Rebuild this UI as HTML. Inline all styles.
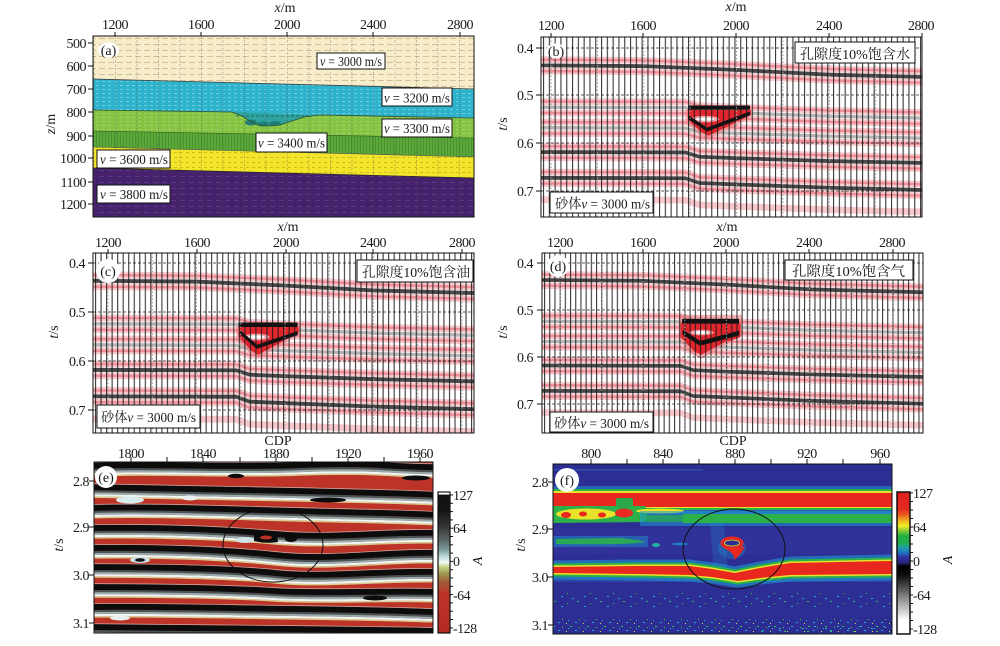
<!DOCTYPE html>
<html><head><meta charset="utf-8"><title>fig</title>
<style>
html,body{margin:0;padding:0;background:#fff;width:1000px;height:646px;overflow:hidden}
svg{display:block}
text{font-family:"Liberation Serif","Noto Serif CJK SC",serif;fill:#1a1a1a;font-size:14px}
.tk{letter-spacing:-0.5px}
.e{text-anchor:end}
.m{text-anchor:middle}
</style></head><body>
<svg width="1000" height="646" viewBox="0 0 1000 646" xmlns="http://www.w3.org/2000/svg">
<defs>
<clipPath id="cA"><rect x="93" y="36" width="381" height="181"/></clipPath>
<clipPath id="cB"><rect x="541" y="37" width="381" height="180"/></clipPath>
<clipPath id="cC"><rect x="93" y="253" width="381" height="180"/></clipPath>
<clipPath id="cD"><rect x="542" y="253" width="381" height="180"/></clipPath>
<clipPath id="cE"><rect x="94" y="462" width="339" height="171"/></clipPath>
<clipPath id="cF"><rect x="553" y="464" width="339" height="170"/></clipPath>

<pattern id="pTan" width="9" height="6" patternUnits="userSpaceOnUse"><rect x="0" y="2" width="6" height="1" fill="#b8a479" opacity=".6"/></pattern>
<pattern id="pCy" width="6" height="4" patternUnits="userSpaceOnUse"><rect x="0" y="1" width="3" height="1" fill="#a5e0ec" opacity=".55"/></pattern>
<pattern id="pLg" width="6" height="4" patternUnits="userSpaceOnUse"><rect x="0" y="1" width="3" height="1" fill="#bfe08a" opacity=".55"/></pattern>
<pattern id="pDg" width="3" height="4" patternUnits="userSpaceOnUse"><rect x="0" y="0" width="1" height="4" fill="#3a8526" opacity=".6"/></pattern>
<pattern id="pYe" width="6" height="5" patternUnits="userSpaceOnUse"><rect x="0" y="2" width="3" height="1" fill="#bfae14" opacity=".7"/></pattern>
<pattern id="pPu" width="9" height="6" patternUnits="userSpaceOnUse"><rect x="0" y="2" width="5" height="1" fill="#6b4b93" opacity=".55"/></pattern>
<pattern id="pVg" x="115" y="36" width="21.5" height="4" patternUnits="userSpaceOnUse"><rect width="0.8" height="2.5" fill="#444" opacity=".35"/></pattern>

<pattern id="tB" x="543" y="0" width="5.8" height="10" patternUnits="userSpaceOnUse"><rect width="1.1" height="10" fill="#161616"/></pattern>
<pattern id="tC" x="95" y="0" width="5.53" height="10" patternUnits="userSpaceOnUse"><rect width="1.1" height="10" fill="#161616"/></pattern>
<pattern id="tD" x="544" y="0" width="5.2" height="10" patternUnits="userSpaceOnUse"><rect width="1.1" height="10" fill="#161616"/></pattern>

<path id="r1" d="M1050,436 L1600,438 L2000,446 L2400,456 L3000,463"/>
<path id="r2" d="M1050,524 L1780,525 L1840,533 L2000,536 L2400,543 L3000,549"/>
<path id="r3" d="M1050,567 L1780,568 L1840,576 L2000,579 L2400,585 L3000,591"/>
<path id="r4" d="M1050,618 L1780,619 L1840,628 L2000,631 L2400,637 L3000,643"/>
<path id="r5" d="M1050,672 L1780,673 L1840,683 L2000,686 L2400,693 L3000,700"/>
<path id="r6" d="M1050,718 L1780,719 L1840,729 L2000,732 L2400,739 L3000,746"/>
<g id="refl" fill="none">
 <g stroke="#f29aa3" stroke-opacity=".55" stroke-width="14">
  <use href="#r1" y="-12"/><use href="#r1" y="12"/>
  <use href="#r2" y="-12"/><use href="#r2" y="12"/>
  <use href="#r3" y="-12"/><use href="#r3" y="12"/>
  <use href="#r4" y="-12"/><use href="#r4" y="12"/>
  <use href="#r5" y="-12"/><use href="#r5" y="12"/>
  <use href="#r6"/>
 </g>
 <g stroke="#ec5f6e" stroke-opacity=".55" stroke-width="5">
  <use href="#r1" y="-12"/><use href="#r1" y="12"/>
  <use href="#r2" y="-12"/><use href="#r2" y="12"/>
  <use href="#r3" y="-12"/><use href="#r3" y="12"/>
  <use href="#r4" y="-12"/><use href="#r4" y="12"/>
  <use href="#r5" y="-12"/><use href="#r5" y="12"/>
 </g>
 <g stroke="#1c1c1c" stroke-opacity=".8" stroke-width="8"><use href="#r1"/><use href="#r4"/><use href="#r5"/></g>
 <g stroke="#8c8c8c" stroke-opacity=".65" stroke-width="7"><use href="#r2"/><use href="#r3"/></g>
</g>

<g id="E1">
<path d="M88,466 C150,463 220,468 300,465 S400,468 440,467"/>
<path d="M88,487 C150,488 220,489 300,491 S400,493 440,495"/>
<path d="M88,508 C150,506 220,509 300,511 S400,513 440,515"/>
<path d="M88,528 C150,527 220,529 276,534 S390,531 440,533"/>
<path d="M88,548 C150,547 220,549 276,555 S390,551 440,553"/>
<path d="M88,567 C150,567 230,568 276,573 S390,570 440,572"/>
<path d="M88,587 C150,587 230,588 276,591 S390,590 440,592"/>
<path d="M88,607 C150,606 220,608 300,609 S400,611 440,612"/>
<path d="M88,627 C150,627 220,628 300,629 S400,630 440,631"/>
</g>

<linearGradient id="gE" x1="0" y1="0" x2="0" y2="1">
<stop offset="0" stop-color="#fff"/><stop offset=".016" stop-color="#fff"/>
<stop offset=".02" stop-color="#111"/><stop offset=".13" stop-color="#141414"/>
<stop offset=".25" stop-color="#363838"/><stop offset=".34" stop-color="#5c6666"/>
<stop offset=".41" stop-color="#7e9c9c"/><stop offset=".46" stop-color="#bcdcdc"/>
<stop offset=".5" stop-color="#f4faf8"/><stop offset=".53" stop-color="#c6d488"/>
<stop offset=".58" stop-color="#9c9650"/><stop offset=".64" stop-color="#a25a3a"/>
<stop offset=".72" stop-color="#bc3428"/><stop offset="1" stop-color="#b42a24"/>
</linearGradient>
<linearGradient id="gF" x1="0" y1="0" x2="0" y2="1">
<stop offset="0" stop-color="#e02020"/><stop offset=".12" stop-color="#e42a20"/>
<stop offset=".16" stop-color="#ea5a20"/><stop offset=".21" stop-color="#f0c020"/>
<stop offset=".24" stop-color="#f0ee24"/><stop offset=".27" stop-color="#8ccc34"/>
<stop offset=".31" stop-color="#22b040"/><stop offset=".36" stop-color="#20ae50"/>
<stop offset=".39" stop-color="#20a0a8"/><stop offset=".43" stop-color="#2070c0"/>
<stop offset=".46" stop-color="#3030a0"/><stop offset=".5" stop-color="#26267a"/>
<stop offset=".52" stop-color="#000"/><stop offset=".58" stop-color="#0a0a0a"/>
<stop offset=".66" stop-color="#444"/><stop offset=".76" stop-color="#959595"/>
<stop offset=".85" stop-color="#d8d8d8"/><stop offset=".9" stop-color="#fff"/>
<stop offset="1" stop-color="#fff"/>
</linearGradient>

<pattern id="sp1" x="553" y="590" width="23" height="10" patternUnits="userSpaceOnUse">
<rect x="1" y="1" width="2" height="1" fill="#2fbf5a"/>
<rect x="8" y="6" width="2" height="1" fill="#25a9d4"/>
<rect x="14" y="3" width="1" height="1" fill="#38c24a"/>
<rect x="19" y="8" width="2" height="1" fill="#22b3c8"/>
</pattern>
<pattern id="sp2" x="553" y="617" width="17" height="8" patternUnits="userSpaceOnUse">
<rect x="0" y="1" width="2" height="1" fill="#2fbf5a"/>
<rect x="5" y="5" width="2" height="1" fill="#25a9d4"/>
<rect x="9" y="2" width="1" height="1" fill="#46c23e"/>
<rect x="13" y="6" width="1" height="1" fill="#d8d830"/>
<rect x="15" y="3" width="1" height="1" fill="#22b3c8"/>
</pattern>

<path id="LB" d="M553,567 L640,566 L690,566 L712,569 L735,573 L760,568 L790,563 L892,561 L892,574 L790,575 L760,578 L738,581 L712,577 L690,575 L640,574 L553,573 Z"/>
</defs>

<rect width="1000" height="646" fill="#fff"/>

<!-- ================= PANEL A ================= -->
<g clip-path="url(#cA)">
<rect x="93" y="36" width="381" height="181" fill="#f7edca"/>
<rect x="93" y="36" width="381" height="181" fill="url(#pTan)"/>
<polygon points="93,79 474,89 474,217 93,217" fill="#2db3cb"/>
<polygon points="93,79 474,89 474,217 93,217" fill="url(#pCy)"/>
<polygon points="93,110 232,112 242,116 250,121 258,125 268,126 280,125 292,121 304,117 320,115 474,118 474,217 93,217" fill="#86c444"/>
<polygon points="93,110 232,112 242,116 250,121 258,125 268,126 280,125 292,121 304,117 320,115 474,118 474,217 93,217" fill="url(#pLg)"/>
<polygon points="232,112 320,115 304,117 292,121 280,125 268,126 258,125 250,121 242,116" fill="#2fa3a0"/>
<ellipse cx="251" cy="122.5" rx="6" ry="3" fill="#1f7f78"/>
<ellipse cx="263" cy="124" rx="6" ry="2.5" fill="#1f7f78"/>
<ellipse cx="275" cy="123.5" rx="6" ry="2.5" fill="#1f7f78"/>
<line x1="236" y1="116" x2="312" y2="116" stroke="#1a6f6a" stroke-width="1" stroke-dasharray="3 2"/>
<polygon points="93,131 474,138 474,217 93,217" fill="#5da83a"/>
<polygon points="93,131 474,138 474,217 93,217" fill="url(#pDg)"/>
<polygon points="93,147 474,157 474,217 93,217" fill="#f3e52c"/>
<polygon points="93,147 474,157 474,217 93,217" fill="url(#pYe)"/>
<polygon points="93,168 474,178 474,217 93,217" fill="#47226c"/>
<polygon points="93,168 474,178 474,217 93,217" fill="url(#pPu)"/>
<rect x="93" y="36" width="381" height="181" fill="url(#pVg)"/>
<polyline points="93,79 474,89" stroke="#3a3a3a" stroke-width=".8" fill="none"/>
<polyline points="93,110 232,112 242,116 250,121 258,125 268,126 280,125 292,121 304,117 320,115 474,118" stroke="#2f4f2f" stroke-width=".8" fill="none"/>
<polyline points="93,131 474,138" stroke="#2f5a22" stroke-width=".6" fill="none"/>
<polyline points="93,147 474,157" stroke="#555" stroke-width=".6" fill="none"/>
<polyline points="93,168 474,178" stroke="#222" stroke-width=".7" fill="none"/>
</g>
<rect x="93" y="36" width="381" height="181" fill="none" stroke="#111" stroke-width="1"/>
<ellipse cx="108.5" cy="50" rx="10.5" ry="7.5" fill="#fff"/>
<text x="108.5" y="55" class="m" font-size="13">(a)</text>

<rect x="317" y="53" width="68" height="16" fill="#fff" stroke="#111"/>
<text x="320" y="66" textLength="62" lengthAdjust="spacingAndGlyphs"><tspan font-style="italic">v</tspan> = 3000 m/s</text>
<rect x="382" y="88" width="70" height="18" fill="#fff" stroke="#111"/>
<text x="384" y="102.5" textLength="66" lengthAdjust="spacingAndGlyphs"><tspan font-style="italic">v</tspan> = 3200 m/s</text>
<rect x="382" y="119" width="70" height="18" fill="#fff" stroke="#111"/>
<text x="384" y="133" textLength="66" lengthAdjust="spacingAndGlyphs"><tspan font-style="italic">v</tspan> = 3300 m/s</text>
<rect x="256" y="133" width="71" height="19" fill="#fff" stroke="#111"/>
<text x="258" y="147.5" textLength="67" lengthAdjust="spacingAndGlyphs"><tspan font-style="italic">v</tspan> = 3400 m/s</text>
<rect x="97" y="150" width="73" height="18" fill="#fff" stroke="#111"/>
<text x="100" y="164" textLength="68" lengthAdjust="spacingAndGlyphs"><tspan font-style="italic">v</tspan> = 3600 m/s</text>
<rect x="97" y="185" width="73" height="18" fill="#fff" stroke="#111"/>
<text x="100" y="199" textLength="68" lengthAdjust="spacingAndGlyphs"><tspan font-style="italic">v</tspan> = 3800 m/s</text>

<!-- axes A -->
<g stroke="#111" stroke-width="1">
<line x1="115" y1="36" x2="115" y2="32"/><line x1="201" y1="36" x2="201" y2="32"/><line x1="287" y1="36" x2="287" y2="32"/><line x1="373" y1="36" x2="373" y2="32"/><line x1="460" y1="36" x2="460" y2="32"/>
<line x1="88" y1="43" x2="93" y2="43"/><line x1="88" y1="66" x2="93" y2="66"/><line x1="88" y1="89" x2="93" y2="89"/><line x1="88" y1="112" x2="93" y2="112"/><line x1="88" y1="136" x2="93" y2="136"/><line x1="88" y1="158" x2="93" y2="158"/><line x1="88" y1="182" x2="93" y2="182"/><line x1="88" y1="204" x2="93" y2="204"/>
</g>
<text x="285" y="12" class="m"><tspan font-style="italic">x</tspan>/m</text>
<text x="115" y="29" class="m tk">1200</text><text x="201" y="29" class="m tk">1600</text><text x="287" y="29" class="m tk">2000</text><text x="373" y="29" class="m tk">2400</text><text x="460" y="29" class="m tk">2800</text>
<text x="86" y="48" class="e tk">500</text><text x="86" y="71" class="e tk">600</text><text x="86" y="94" class="e tk">700</text><text x="86" y="117" class="e tk">800</text><text x="86" y="141" class="e tk">900</text><text x="86" y="163" class="e tk">1000</text><text x="86" y="187" class="e tk">1100</text><text x="86" y="209" class="e tk">1200</text>
<text transform="translate(55,124) rotate(-90)" class="m"><tspan font-style="italic">z</tspan>/m</text>

<!-- ================= PANEL B ================= -->
<g clip-path="url(#cB)">
<rect x="541" y="37" width="381" height="180" fill="#fff"/>
<g transform="matrix(0.2319,0,0,0.477,272.7,-142.8)">
 <use href="#refl"/>
 <path d="M1780,528 L2070,528 L2070,543 L1990,565 L1880,592 L1845,584 L1780,555 Z" fill="#f07880" opacity=".55"/>
 <path d="M1790,530 L2062,530 L2062,540 L1990,558 L1880,584 L1850,577 L1790,551 Z" fill="#e2262e"/>
 <ellipse cx="1865" cy="549" rx="60" ry="7" fill="#f3a3aa"/>
 <ellipse cx="1865" cy="549" rx="40" ry="3.5" fill="#fff"/>
 <path d="M1792,525 L2058,525" stroke="#111" stroke-width="9" fill="none"/>
 <path d="M1792,545 L1873,571 L2058,537" stroke="#111" stroke-width="8" fill="none"/>
</g>
<rect x="541" y="37" width="381" height="180" fill="url(#tB)" opacity=".85"/>
<g stroke="#9a9a9a" stroke-width="1" stroke-dasharray="1.5 2">
<line x1="551" y1="37" x2="551" y2="217"/><line x1="597.4" y1="37" x2="597.4" y2="217"/><line x1="643.8" y1="37" x2="643.8" y2="217"/><line x1="690.1" y1="37" x2="690.1" y2="217"/><line x1="736.5" y1="37" x2="736.5" y2="217"/><line x1="782.9" y1="37" x2="782.9" y2="217"/><line x1="829.3" y1="37" x2="829.3" y2="217"/><line x1="875.6" y1="37" x2="875.6" y2="217"/>
</g>
<g stroke="#222" stroke-width=".7" stroke-dasharray="3 2">
<line x1="541" y1="48" x2="922" y2="48"/><line x1="541" y1="95" x2="922" y2="95"/><line x1="541" y1="143" x2="922" y2="143"/><line x1="541" y1="191" x2="922" y2="191"/>
</g>
</g>
<rect x="541" y="37" width="381" height="180" fill="none" stroke="#111"/>
<ellipse cx="556" cy="51" rx="10" ry="7.5" fill="#fff"/>
<text x="556" y="56" class="m" font-size="13">(b)</text>
<rect x="795" y="42" width="120" height="21" fill="#fff" stroke="#111"/>
<text x="800" y="59" font-size="15" textLength="110" lengthAdjust="spacingAndGlyphs">孔隙度10%饱含水</text>
<rect x="550" y="192" width="103" height="21" fill="#fff" stroke="#111"/>
<text x="555" y="208.5" textLength="95" lengthAdjust="spacingAndGlyphs">砂体<tspan font-style="italic">v</tspan> = 3000 m/s</text>
<g stroke="#111" stroke-width="1">
<line x1="551" y1="37" x2="551" y2="33"/><line x1="643" y1="37" x2="643" y2="33"/><line x1="736" y1="37" x2="736" y2="33"/><line x1="829" y1="37" x2="829" y2="33"/><line x1="922" y1="37" x2="922" y2="33"/>
<line x1="536" y1="48" x2="541" y2="48"/><line x1="536" y1="95" x2="541" y2="95"/><line x1="536" y1="143" x2="541" y2="143"/><line x1="536" y1="191" x2="541" y2="191"/>
</g>
<text x="736" y="11" class="m"><tspan font-style="italic">x</tspan>/m</text>
<text x="551" y="30" class="m tk">1200</text><text x="643" y="30" class="m tk">1600</text><text x="736" y="30" class="m tk">2000</text><text x="829" y="30" class="m tk">2400</text><text x="921" y="30" class="m tk">2800</text>
<text x="533" y="53" class="e tk">0.4</text><text x="533" y="100" class="e tk">0.5</text><text x="533" y="148" class="e tk">0.6</text><text x="533" y="196" class="e tk">0.7</text>
<text transform="translate(507,124) rotate(-90)" class="m"><tspan font-style="italic">t</tspan>/s</text>

<!-- ================= PANEL C ================= -->
<g clip-path="url(#cC)">
<rect x="93" y="253" width="381" height="180" fill="#fff"/>
<g transform="matrix(0.2213,0,0,0.49,-157.6,67)">
 <use href="#refl"/>
 <path d="M1780,528 L2070,528 L2070,545 L1990,567 L1880,594 L1845,586 L1780,555 Z" fill="#f07880" opacity=".55"/>
 <path d="M1790,530 L2062,530 L2062,542 L1990,560 L1880,587 L1850,580 L1790,551 Z" fill="#e2262e"/>
 <ellipse cx="1870" cy="551" rx="60" ry="7" fill="#f3a3aa"/>
 <ellipse cx="1870" cy="551" rx="38" ry="3.5" fill="#fff"/>
 <path d="M1790,526 L2057,526" stroke="#111" stroke-width="9" fill="none"/>
 <path d="M1796,541 L1873,571 L2057,543" stroke="#111" stroke-width="8" fill="none"/>
</g>
<rect x="93" y="253" width="381" height="180" fill="url(#tC)" opacity=".85"/>
<g stroke="#9a9a9a" stroke-width="1" stroke-dasharray="1.5 2">
<line x1="108" y1="253" x2="108" y2="433"/><line x1="152.3" y1="253" x2="152.3" y2="433"/><line x1="196.5" y1="253" x2="196.5" y2="433"/><line x1="240.8" y1="253" x2="240.8" y2="433"/><line x1="285" y1="253" x2="285" y2="433"/><line x1="329.3" y1="253" x2="329.3" y2="433"/><line x1="373.6" y1="253" x2="373.6" y2="433"/><line x1="417.9" y1="253" x2="417.9" y2="433"/><line x1="462" y1="253" x2="462" y2="433"/>
</g>
<g stroke="#222" stroke-width=".7" stroke-dasharray="3 2">
<line x1="93" y1="263" x2="474" y2="263"/><line x1="93" y1="312" x2="474" y2="312"/><line x1="93" y1="361" x2="474" y2="361"/><line x1="93" y1="410" x2="474" y2="410"/>
</g>
</g>
<rect x="93" y="253" width="381" height="180" fill="none" stroke="#111"/>
<circle cx="108" cy="271" r="12" fill="#fff"/>
<text x="108" y="276" class="m" font-size="13">(c)</text>
<rect x="357" y="260" width="116" height="22" fill="#fff" stroke="#111"/>
<text x="362" y="277" font-size="15" textLength="108" lengthAdjust="spacingAndGlyphs">孔隙度10%饱含油</text>
<rect x="97" y="405" width="103" height="23" fill="#fff" stroke="#111"/>
<text x="101" y="422" textLength="95" lengthAdjust="spacingAndGlyphs">砂体<tspan font-style="italic">v</tspan> = 3000 m/s</text>
<g stroke="#111" stroke-width="1">
<line x1="108" y1="253" x2="108" y2="249"/><line x1="197" y1="253" x2="197" y2="249"/><line x1="286" y1="253" x2="286" y2="249"/><line x1="373" y1="253" x2="373" y2="249"/><line x1="462" y1="253" x2="462" y2="249"/>
<line x1="88" y1="263" x2="93" y2="263"/><line x1="88" y1="312" x2="93" y2="312"/><line x1="88" y1="361" x2="93" y2="361"/><line x1="88" y1="410" x2="93" y2="410"/>
</g>
<text x="288" y="231" class="m"><tspan font-style="italic">x</tspan>/m</text>
<text x="108" y="247" class="m tk">1200</text><text x="197" y="247" class="m tk">1600</text><text x="286" y="247" class="m tk">2000</text><text x="373" y="247" class="m tk">2400</text><text x="462" y="247" class="m tk">2800</text>
<text x="85" y="268" class="e tk">0.4</text><text x="85" y="317" class="e tk">0.5</text><text x="85" y="366" class="e tk">0.6</text><text x="85" y="415" class="e tk">0.7</text>
<text transform="translate(58,332) rotate(-90)" class="m"><tspan font-style="italic">t</tspan>/s</text>

<!-- ================= PANEL D ================= -->
<g clip-path="url(#cD)">
<rect x="542" y="253" width="381" height="180" fill="#fff"/>
<g transform="matrix(0.208,0,0,0.47,310.4,75)">
 <use href="#refl"/>
 <path d="M1770,510 L2075,510 L2075,554 L1990,576 L1880,604 L1840,596 L1770,564 Z" fill="#f07880" opacity=".55"/>
 <path d="M1780,527 L2068,527 L2068,558 L1990,569 L1880,595 L1845,588 L1780,558 Z" fill="#e2262e"/>
 <ellipse cx="1880" cy="548" rx="60" ry="6" fill="#f3a3aa"/>
 <ellipse cx="1880" cy="548" rx="38" ry="3" fill="#fff"/>
 <path d="M1787,524 L2061,524" stroke="#111" stroke-width="10" fill="none"/>
 <path d="M1790,547 L1873,571 L2061,549" stroke="#111" stroke-width="10" fill="none"/>
</g>
<rect x="542" y="253" width="381" height="180" fill="url(#tD)" opacity=".85"/>
<g stroke="#9a9a9a" stroke-width="1" stroke-dasharray="1.5 2">
<line x1="560" y1="253" x2="560" y2="433"/><line x1="601.6" y1="253" x2="601.6" y2="433"/><line x1="643.2" y1="253" x2="643.2" y2="433"/><line x1="684.8" y1="253" x2="684.8" y2="433"/><line x1="726.4" y1="253" x2="726.4" y2="433"/><line x1="768" y1="253" x2="768" y2="433"/><line x1="809.6" y1="253" x2="809.6" y2="433"/><line x1="851.2" y1="253" x2="851.2" y2="433"/><line x1="892.8" y1="253" x2="892.8" y2="433"/>
</g>
<g stroke="#222" stroke-width=".7" stroke-dasharray="3 2">
<line x1="542" y1="263" x2="923" y2="263"/><line x1="542" y1="310" x2="923" y2="310"/><line x1="542" y1="357" x2="923" y2="357"/><line x1="542" y1="404" x2="923" y2="404"/>
</g>
</g>
<rect x="542" y="253" width="381" height="180" fill="none" stroke="#111"/>
<circle cx="558" cy="266" r="11" fill="#fff"/>
<text x="558" y="271" class="m" font-size="13">(d)</text>
<rect x="785" y="260" width="128" height="20" fill="#fff" stroke="#111"/>
<text x="792" y="276" font-size="15" textLength="113" lengthAdjust="spacingAndGlyphs">孔隙度10%饱含气</text>
<rect x="550" y="412" width="103" height="20" fill="#fff" stroke="#111"/>
<text x="554" y="428" textLength="95" lengthAdjust="spacingAndGlyphs">砂体<tspan font-style="italic">v</tspan> = 3000 m/s</text>
<g stroke="#111" stroke-width="1">
<line x1="560" y1="253" x2="560" y2="249"/><line x1="643" y1="253" x2="643" y2="249"/><line x1="726" y1="253" x2="726" y2="249"/><line x1="809" y1="253" x2="809" y2="249"/><line x1="893" y1="253" x2="893" y2="249"/>
<line x1="537" y1="263" x2="542" y2="263"/><line x1="537" y1="310" x2="542" y2="310"/><line x1="537" y1="357" x2="542" y2="357"/><line x1="537" y1="404" x2="542" y2="404"/>
</g>
<text x="727" y="231" class="m"><tspan font-style="italic">x</tspan>/m</text>
<text x="560" y="247" class="m tk">1200</text><text x="643" y="247" class="m tk">1600</text><text x="726" y="247" class="m tk">2000</text><text x="809" y="247" class="m tk">2400</text><text x="892" y="247" class="m tk">2800</text>
<text x="533" y="268" class="e tk">0.4</text><text x="533" y="315" class="e tk">0.5</text><text x="533" y="362" class="e tk">0.6</text><text x="533" y="409" class="e tk">0.7</text>
<text transform="translate(507,332) rotate(-90)" class="m"><tspan font-style="italic">t</tspan>/s</text>

<!-- ================= PANEL E ================= -->
<g clip-path="url(#cE)">
<rect x="94" y="462" width="339" height="171" fill="#bd3327"/>
<g fill="none">
<use href="#E1" stroke="#d9cd8c" stroke-width="1.4" y="10"/>
<use href="#E1" stroke="#eef5f3" stroke-width="2.2" y="8.2"/>
<use href="#E1" stroke="#9aabad" stroke-width="2.2" y="6"/>
<use href="#E1" stroke="#4c5253" stroke-width="2.2" y="4"/>
<use href="#E1" stroke="#0c0c0c" stroke-width="6"/>
<use href="#E1" stroke="#e8ecea" stroke-width=".8" y="-3.3" stroke-opacity=".6"/>
</g>
<ellipse cx="130" cy="500" rx="14" ry="3.5" fill="#d8ecee"/>
<ellipse cx="190" cy="498" rx="8" ry="2.5" fill="#e6eeee"/>
<ellipse cx="245" cy="540" rx="10" ry="3" fill="#cfe3e6"/>
<ellipse cx="140" cy="560" rx="10" ry="3" fill="#cfe3e6"/>
<ellipse cx="140" cy="560" rx="5" ry="1.8" fill="#111"/>
<ellipse cx="120" cy="618" rx="10" ry="2.5" fill="#e8eeee"/>
<ellipse cx="328" cy="500" rx="18" ry="2.5" fill="#0c0c0c"/>
<ellipse cx="416" cy="478" rx="14" ry="2.5" fill="#0c0c0c"/>
<ellipse cx="375" cy="598" rx="12" ry="2.5" fill="#0c0c0c"/>
<ellipse cx="236" cy="476" rx="8" ry="2.2" fill="#0c0c0c"/>
<path d="M254,535 Q265,530 277,534 L278,542 Q266,544 254,541 Z" fill="#0c0c0c"/>
<ellipse cx="266" cy="537.5" rx="6" ry="2" fill="#bd3327"/>
<ellipse cx="291" cy="539" rx="6" ry="3" fill="#0c0c0c"/>
<ellipse cx="273" cy="545" rx="50" ry="37" fill="none" stroke="#111" stroke-width="1"/>
</g>
<rect x="94" y="462" width="339" height="171" fill="none" stroke="#111"/>
<circle cx="106" cy="477" r="11" fill="#fff"/>
<text x="106" y="482" class="m" font-size="13">(e)</text>
<g stroke="#111" stroke-width="1">
<line x1="131" y1="462" x2="131" y2="457"/><line x1="167" y1="462" x2="167" y2="457"/><line x1="203" y1="462" x2="203" y2="457"/><line x1="240" y1="462" x2="240" y2="457"/><line x1="276" y1="462" x2="276" y2="457"/><line x1="312" y1="462" x2="312" y2="457"/><line x1="348" y1="462" x2="348" y2="457"/><line x1="384" y1="462" x2="384" y2="457"/><line x1="420" y1="462" x2="420" y2="457"/>
<line x1="89" y1="481" x2="94" y2="481"/><line x1="89" y1="527" x2="94" y2="527"/><line x1="89" y1="575" x2="94" y2="575"/><line x1="89" y1="623" x2="94" y2="623"/>
</g>
<text x="278" y="445" class="m">CDP</text>
<text x="131" y="458" class="m tk">1800</text><text x="203" y="458" class="m tk">1840</text><text x="276" y="458" class="m tk">1880</text><text x="348" y="458" class="m tk">1920</text><text x="420" y="458" class="m tk">1960</text>
<text x="89" y="486" class="e tk">2.8</text><text x="89" y="532" class="e tk">2.9</text><text x="89" y="580" class="e tk">3.0</text><text x="89" y="628" class="e tk">3.1</text>
<text transform="translate(63,545) rotate(-90)" class="m"><tspan font-style="italic">t</tspan>/s</text>
<!-- colorbar E -->
<rect x="438" y="492" width="12" height="141" fill="url(#gE)" stroke="#111" stroke-width="1.2"/>
<g stroke="#111" stroke-width="1">
<line x1="450" y1="495" x2="453" y2="495"/><line x1="450" y1="503.3" x2="453" y2="503.3"/><line x1="450" y1="511.6" x2="453" y2="511.6"/><line x1="450" y1="519.9" x2="453" y2="519.9"/><line x1="450" y1="528.2" x2="453" y2="528.2"/><line x1="450" y1="536.5" x2="453" y2="536.5"/><line x1="450" y1="544.8" x2="453" y2="544.8"/><line x1="450" y1="553.1" x2="453" y2="553.1"/><line x1="450" y1="561.4" x2="453" y2="561.4"/><line x1="450" y1="569.7" x2="453" y2="569.7"/><line x1="450" y1="578" x2="453" y2="578"/><line x1="450" y1="586.3" x2="453" y2="586.3"/><line x1="450" y1="594.6" x2="453" y2="594.6"/><line x1="450" y1="602.9" x2="453" y2="602.9"/><line x1="450" y1="611.2" x2="453" y2="611.2"/><line x1="450" y1="619.5" x2="453" y2="619.5"/><line x1="450" y1="628" x2="453" y2="628"/>
</g>
<text x="453" y="500" class="tk">127</text><text x="453" y="533" class="tk">64</text><text x="453" y="566" class="tk">0</text><text x="453" y="600" class="tk">-64</text><text x="453" y="633" class="tk">-128</text>
<text transform="translate(482,561) rotate(-90)" class="m" font-style="italic">A</text>

<!-- ================= PANEL F ================= -->
<g clip-path="url(#cF)">
<rect x="553" y="464" width="339" height="170" fill="#2d2e94"/>
<rect x="553" y="469" width="150" height="1.5" fill="#3f6ac4" opacity=".5"/>
<rect x="553" y="528" width="339" height="26" fill="#3538a0" opacity=".45"/>
<!-- upper band -->
<rect x="553" y="486" width="339" height="28" fill="#1e9ad2" opacity=".5"/>
<rect x="553" y="489" width="339" height="21" fill="#2bb04a"/>
<rect x="553" y="491" width="339" height="17" fill="#e9e22a"/>
<rect x="553" y="493" width="339" height="14" fill="#e8281e"/>
<path d="M553,506 L645,506 Q650,514 644,522 L553,523 Z" fill="#2bb04a"/>
<ellipse cx="586" cy="514" rx="30" ry="5.5" fill="#e9e22a"/>
<ellipse cx="566" cy="515" rx="5" ry="3" fill="#e8281e"/>
<ellipse cx="583" cy="514" rx="4" ry="2.5" fill="#e8281e"/>
<ellipse cx="602" cy="515" rx="4" ry="2.5" fill="#e8281e"/>
<rect x="616" y="498" width="17" height="10" rx="2" fill="#2aa84a"/>
<ellipse cx="624" cy="513" rx="9" ry="4.5" fill="#e8281e"/>
<ellipse cx="660" cy="511" rx="24" ry="2.5" fill="#e9e22a"/>
<rect x="640" y="511" width="252" height="15" fill="#1e9ad2" opacity=".55"/>
<rect x="683" y="514" width="209" height="9" fill="#2bb04a"/>
<rect x="645" y="515" width="40" height="7" fill="#2bb04a" opacity=".7"/>
<!-- mid band left -->
<rect x="553" y="536" width="95" height="11" fill="#1e9ad2" opacity=".45"/>
<path d="M556,539 L620,538 Q640,540 645,542 Q630,545 556,544 Z" fill="#2bb04a" opacity=".9"/>
<ellipse cx="656" cy="545" rx="4" ry="2" fill="#1fb0a0"/>
<ellipse cx="680" cy="544" rx="8" ry="1.5" fill="#1e9ad2" opacity=".7"/>
<!-- circle feature smear -->
<path d="M710,522 L724,522 L728,572 L714,572 Z" fill="#1e9ad2" opacity=".22"/>
<ellipse cx="732" cy="548" rx="14" ry="11" fill="#1e9ad2" opacity=".3"/>
<!-- lower band -->
<rect x="553" y="577" width="339" height="5" fill="#2a62c0" opacity=".45"/>
<use href="#LB" fill="none" stroke="#1e9ad2" stroke-opacity=".6" stroke-width="13"/>
<use href="#LB" fill="none" stroke="#2bb04a" stroke-width="7"/>
<use href="#LB" fill="none" stroke="#e9e22a" stroke-width="3"/>
<use href="#LB" fill="#e8281e"/>
<!-- ring -->
<ellipse cx="732" cy="543" rx="10" ry="5" fill="#2d2e94" stroke="#e8281e" stroke-width="3"/>
<ellipse cx="732" cy="543" rx="7.5" ry="3" fill="none" stroke="#e9e22a" stroke-width=".8"/>
<path d="M723,548 Q735,551 745,546 Q741,555 734,560 Q736,553 723,548 Z" fill="#e8281e"/>
<!-- speckles -->
<rect x="553" y="592" width="339" height="16" fill="url(#sp1)"/>
<rect x="553" y="619" width="339" height="15" fill="url(#sp2)"/>
<rect x="760" y="624" width="132" height="10" fill="url(#sp1)"/>
<ellipse cx="734" cy="549" rx="51" ry="40" fill="none" stroke="#111" stroke-width="1"/>
</g>
<rect x="553" y="464" width="339" height="170" fill="none" stroke="#111"/>
<circle cx="567" cy="480" r="12" fill="#fff"/>
<text x="567" y="485" class="m" font-size="13">(f)</text>
<g stroke="#111" stroke-width="1">
<line x1="591" y1="464" x2="591" y2="459"/><line x1="627" y1="464" x2="627" y2="459"/><line x1="663" y1="464" x2="663" y2="459"/><line x1="699" y1="464" x2="699" y2="459"/><line x1="735" y1="464" x2="735" y2="459"/><line x1="771" y1="464" x2="771" y2="459"/><line x1="807" y1="464" x2="807" y2="459"/><line x1="843" y1="464" x2="843" y2="459"/><line x1="880" y1="464" x2="880" y2="459"/>
<line x1="548" y1="482" x2="553" y2="482"/><line x1="548" y1="529" x2="553" y2="529"/><line x1="548" y1="577" x2="553" y2="577"/><line x1="548" y1="625" x2="553" y2="625"/>
</g>
<text x="733" y="445" class="m">CDP</text>
<text x="591" y="458" class="m tk">800</text><text x="663" y="458" class="m tk">840</text><text x="735" y="458" class="m tk">880</text><text x="807" y="458" class="m tk">920</text><text x="880" y="458" class="m tk">960</text>
<text x="548" y="487" class="e tk">2.8</text><text x="548" y="534" class="e tk">2.9</text><text x="548" y="582" class="e tk">3.0</text><text x="548" y="630" class="e tk">3.1</text>
<text transform="translate(525,545) rotate(-90)" class="m"><tspan font-style="italic">t</tspan>/s</text>
<!-- colorbar F -->
<rect x="897" y="492" width="13" height="142" fill="url(#gF)" stroke="#111" stroke-width="1.5"/>
<g stroke="#111" stroke-width="1">
<line x1="910" y1="493" x2="913" y2="493"/><line x1="910" y1="501.5" x2="913" y2="501.5"/><line x1="910" y1="510" x2="913" y2="510"/><line x1="910" y1="518.5" x2="913" y2="518.5"/><line x1="910" y1="527" x2="913" y2="527"/><line x1="910" y1="535.5" x2="913" y2="535.5"/><line x1="910" y1="544" x2="913" y2="544"/><line x1="910" y1="552.5" x2="913" y2="552.5"/><line x1="910" y1="561" x2="913" y2="561"/><line x1="910" y1="569.5" x2="913" y2="569.5"/><line x1="910" y1="578" x2="913" y2="578"/><line x1="910" y1="586.5" x2="913" y2="586.5"/><line x1="910" y1="595" x2="913" y2="595"/><line x1="910" y1="603.5" x2="913" y2="603.5"/><line x1="910" y1="612" x2="913" y2="612"/><line x1="910" y1="620.5" x2="913" y2="620.5"/><line x1="910" y1="629" x2="913" y2="629"/>
</g>
<text x="913" y="498" class="tk">127</text><text x="913" y="532" class="tk">64</text><text x="913" y="566" class="tk">0</text><text x="913" y="600" class="tk">-64</text><text x="913" y="634" class="tk">-128</text>
<text transform="translate(952,560) rotate(-90)" class="m" font-style="italic">A</text>
</svg>
</body></html>
